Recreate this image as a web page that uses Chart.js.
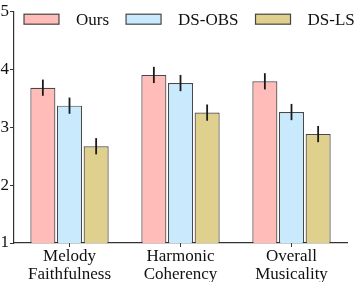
<!DOCTYPE html>
<html>
<head>
<meta charset="utf-8">
<script src="https://cdn.jsdelivr.net/npm/chart.js@4.4.1/dist/chart.umd.min.js"></script>
<style>
  html, body { margin: 0; padding: 0; background: #fff; }
  #wrap { width: 360px; height: 282px; position: relative; }
</style>
</head>
<body>
<div id="wrap"><canvas id="myChart"></canvas></div>
<script>
// categories and series
var categories = [['Melody', 'Faithfulness'], ['Harmonic', 'Coherency'], ['Overall', 'Musicality']];
var seriesNames = ['Ours', 'DS-OBS', 'DS-LS'];
var oursScores = [3.68, 3.90, 3.79];
var obsScores = [3.37, 3.76, 3.26];
var lsScores = [2.67, 3.25, 2.88];
var oursErr = [0.14, 0.14, 0.14];
var obsErr = [0.14, 0.14, 0.14];
var lsErr = [0.14, 0.14, 0.14];
var yTicks = [1, 2, 3, 4, 5];

var colors = ['#ffbcb8', '#c9e9fc', '#e0d08e'];
var serif = 'Liberation Serif, Times New Roman, serif';

var dataset = {
  labels: categories,
  datasets: [
    { label: seriesNames[0], data: oursScores, err: oursErr, backgroundColor: colors[0] },
    { label: seriesNames[1], data: obsScores, err: obsErr, backgroundColor: colors[1] },
    { label: seriesNames[2], data: lsScores, err: lsErr, backgroundColor: colors[2] }
  ].map(function (d) {
    d.borderColor = 'rgba(40,40,40,0.85)';
    d.borderWidth = 1.2;
    d.categoryPercentage = 0.72;
    d.barPercentage = 0.94;
    return d;
  })
};

// error bars on top of each bar
var errorBars = {
  id: 'errorBars',
  afterDatasetsDraw: function (chart) {
    var ctx = chart.ctx;
    var y = chart.scales.y;
    ctx.save();
    ctx.strokeStyle = '#1a1a1a';
    ctx.lineWidth = 1.8;
    chart.data.datasets.forEach(function (ds, i) {
      var meta = chart.getDatasetMeta(i);
      meta.data.forEach(function (bar, j) {
        var v = ds.data[j], e = ds.err[j];
        ctx.beginPath();
        ctx.moveTo(bar.x, y.getPixelForValue(v + e));
        ctx.lineTo(bar.x, y.getPixelForValue(v - e));
        ctx.stroke();
      });
    });
    ctx.restore();
  }
};

// legend drawn inside the plot, matplotlib style
var boxLegend = {
  id: 'boxLegend',
  afterDraw: function (chart) {
    var ctx = chart.ctx;
    var area = chart.chartArea;
    var x = area.left + 10;
    var top = area.top + 3;
    ctx.save();
    ctx.font = '17px ' + serif;
    ctx.textBaseline = 'middle';
    chart.data.datasets.forEach(function (ds) {
      ctx.fillStyle = ds.backgroundColor;
      ctx.fillRect(x, top, 35, 10);
      ctx.strokeStyle = 'rgba(40,40,40,0.85)';
      ctx.lineWidth = 1.2;
      ctx.strokeRect(x, top, 35, 10);
      x += 35 + 17;
      ctx.fillStyle = '#111';
      ctx.fillText(ds.label, x, top + 6);
      x += ctx.measureText(ds.label).width + 17;
    });
    ctx.restore();
  }
};

var ctx = document.getElementById('myChart').getContext('2d');
var myChart = new Chart(ctx, {
  type: 'bar',
  data: dataset,
  plugins: [errorBars, boxLegend],
  options: {
    responsive: true,
    maintainAspectRatio: false,
    animation: false,
    layout: { padding: { top: 6, right: 13, left: 0, bottom: 0 } },
    plugins: { legend: { display: false }, tooltip: { enabled: false } },
    scales: {
      x: {
        grid: { display: true, drawOnChartArea: false, offset: false, tickLength: 4, color: '#333' },
        border: { color: '#333', width: 1.2 },
        ticks: { color: '#111', padding: 0, font: { family: serif, size: 17, lineHeight: 1.08 }, maxRotation: 0 },
        afterFit: function (scale) { scale.height = 39; }
      },
      y: {
        min: 1,
        max: 5,
        afterBuildTicks: function (scale) {
          scale.ticks = yTicks.map(function (v) { return { value: v }; });
        },
        grid: { display: true, drawOnChartArea: false, tickLength: 4, color: '#333' },
        border: { color: '#333', width: 1.2 },
        ticks: { color: '#111', padding: 1, font: { family: serif, size: 17 } },
        afterFit: function (scale) { scale.width = 14; }
      }
    }
  }
});
</script>
</body>
</html>
